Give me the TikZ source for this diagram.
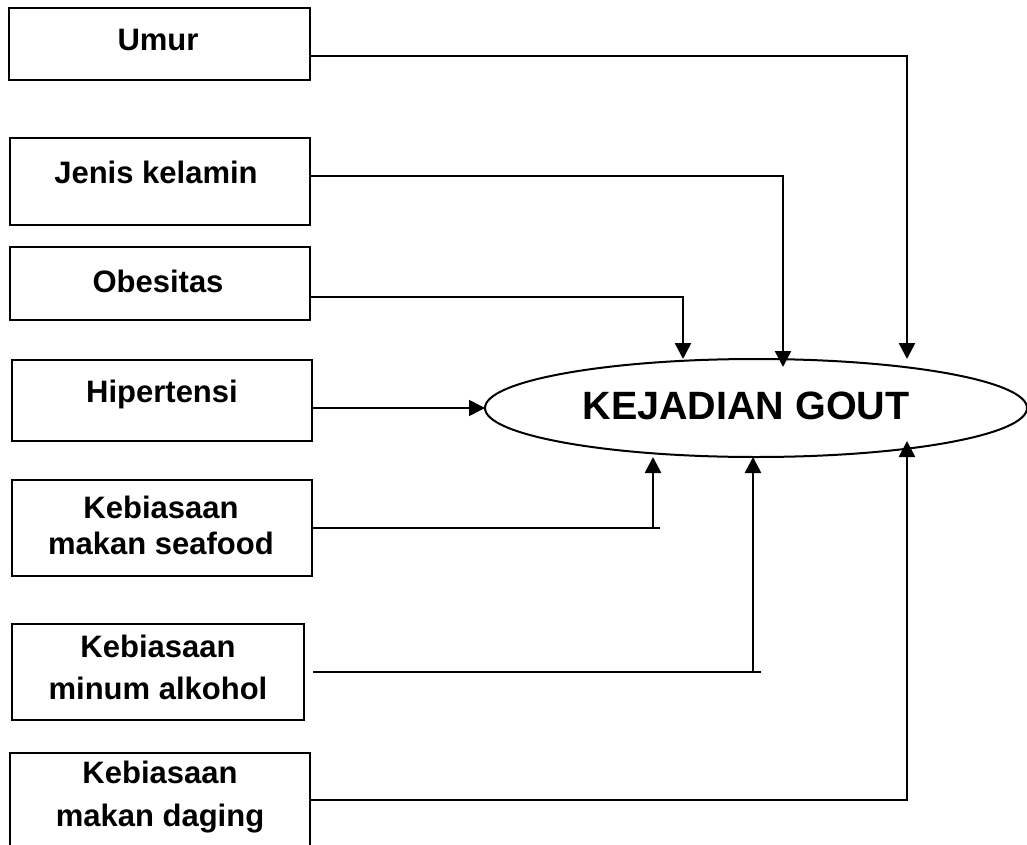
\documentclass[tikz,border=0pt]{standalone}
\usepackage{fontspec}
\setmainfont{Liberation Sans}
\usetikzlibrary{arrows.meta,shapes.geometric}
\begin{document}
\begin{tikzpicture}[x=1pt,y=-1pt,
  box/.style={draw, line width=2pt, minimum width=300pt, inner sep=0pt},
  lbl/.style={font=\bfseries\fontsize{31}{36}\selectfont, align=center, inner sep=0pt, anchor=base},
  hline/.style={line width=1.6pt},
  tip/.style={-{Triangle[length=16pt,width=16pt]}},
  vline/.style={line width=2.6pt, tip}
]
\path[use as bounding box, clip] (0,0) rectangle (1027,845);

% boxes
\node[box, minimum width=301pt, minimum height=72pt] (umur) at (159.5,44) {};
\node[box, minimum height=87pt] (jenis) at (160,181.5) {};
\node[box, minimum height=73pt] (obes) at (160,283.5) {};
\node[box, minimum height=81pt] (hiper) at (162,400.5) {};
\node[box, minimum height=96pt] (seaf) at (162,528) {};
\node[box, minimum width=292pt, minimum height=96pt] (alko) at (158,672) {};
\node[box, minimum height=94pt] (dagi) at (160,800) {};

% labels (anchor = baseline of last line)
\node[lbl] (umurt) at (158,51) {Umur};
\node[lbl] (jenist) at (156,183) {Jenis kelamin};
\node[lbl] (obest) at (158,292) {Obesitas};
\node[lbl] (hipert) at (162,402) {Hipertensi};
\node[lbl] (seaft) at (161,554) {Kebiasaan\\makan seafood};
\node[lbl] (alkot) at (158,699) {Kebiasaan\\[6pt]minum alkohol};
\node[lbl] (dagit) at (160,826) {Kebiasaan\\[7pt]makan daging};

% ellipse
\node[draw, ellipse, line width=2pt, minimum width=542pt, minimum height=98pt, inner sep=0pt] (gout) at (756,408) {};
\node[font=\bfseries\fontsize{39.5}{47}\selectfont, inner sep=0pt, anchor=base] (goutt) at (746,419) {KEJADIAN GOUT};

% corner and tip coordinates
\coordinate (cu) at (907,56);  \coordinate (tu) at (907,359);
\coordinate (cj) at (783,176); \coordinate (tj) at (783,367);
\coordinate (co) at (683,297); \coordinate (to) at (683,359);
\coordinate (th) at (485,408);
\coordinate (cs) at (653,528); \coordinate (es) at (660,528); \coordinate (ts) at (653,457);
\coordinate (ca) at (753,672); \coordinate (ea) at (761,672); \coordinate (ta) at (753,457);
\coordinate (cd) at (907,800); \coordinate (td) at (907,441);

% connectors
\draw[hline] (umur.east |- cu) -- ([xshift=1pt]cu);
\draw[vline] (cu) -- (tu);
\draw[hline] (jenis.east |- cj) -- ([xshift=1pt]cj);
\draw[vline] (cj) -- (tj);
\draw[hline] (obes.east |- co) -- ([xshift=1pt]co);
\draw[vline] (co) -- (to);
\draw[hline, tip] (hiper.east |- th) -- (th);
\draw[hline] (seaf.east |- cs) -- (es);
\draw[vline] (cs) -- (ts);
\draw[hline] ([xshift=8pt]alko.east |- ca) -- (ea);
\draw[vline] (ca) -- (ta);
\draw[hline] (dagi.east |- cd) -- ([xshift=1pt]cd);
\draw[vline] (cd) -- (td);
\end{tikzpicture}
\end{document}
